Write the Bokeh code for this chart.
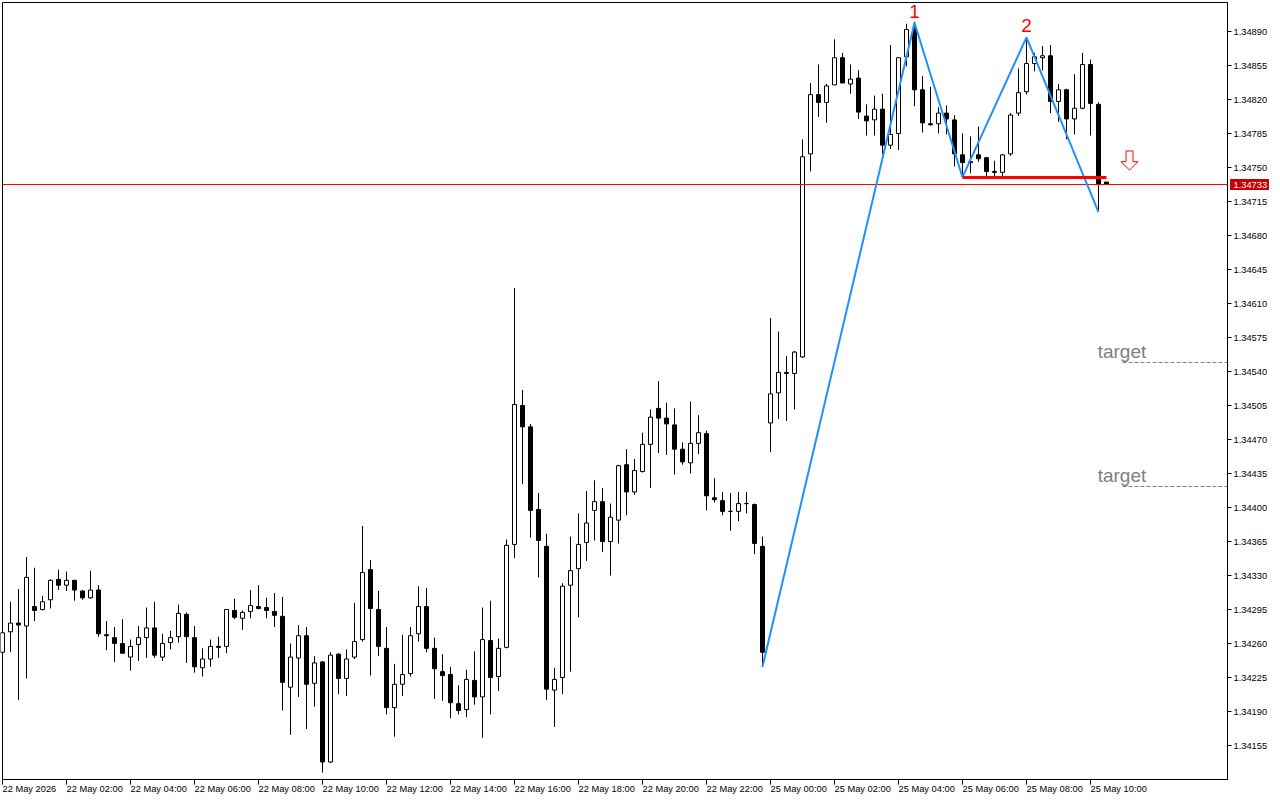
import numpy as np

from bokeh.core.properties import value
from bokeh.embed import file_html
from bokeh.models import ColumnDataSource, FixedTicker, LinearAxis, Range1d
from bokeh.plotting import figure
from bokeh.resources import INLINE

opens = [
    1.34251, 1.34272, 1.34281, 1.34278, 1.34298, 1.34295, 1.34305, 1.34326, 1.34320, 1.34325,
    1.34314, 1.34307, 1.34315, 1.34269, 1.34266, 1.34260, 1.34246, 1.34259, 1.34266, 1.34276,
    1.34246, 1.34261, 1.34267, 1.34290, 1.34266, 1.34235, 1.34244, 1.34257, 1.34257, 1.34294,
    1.34286, 1.34293, 1.34298, 1.34297, 1.34293, 1.34288, 1.34215, 1.34245, 1.34268, 1.34219,
    1.34241, 1.34138, 1.34249, 1.34224, 1.34246, 1.34264, 1.34336, 1.34295, 1.34255, 1.34194,
    1.34218, 1.34229, 1.34270, 1.34298, 1.34255, 1.34231, 1.34228, 1.34198, 1.34192, 1.34222,
    1.34205, 1.34263, 1.34226, 1.34256, 1.34362, 1.34505, 1.34483, 1.34398, 1.34360, 1.34212,
    1.34225, 1.34320, 1.34337, 1.34364, 1.34397, 1.34406, 1.34365, 1.34387, 1.34444, 1.34416,
    1.34437, 1.34465, 1.34502, 1.34492, 1.34485, 1.34460, 1.34446, 1.34466, 1.34476, 1.34410,
    1.34407, 1.34396, 1.34396, 1.34404, 1.34403, 1.34360, 1.34487, 1.34518, 1.34539, 1.34538,
    1.34555, 1.34764, 1.34825, 1.34817, 1.34835, 1.34863, 1.34836, 1.34842, 1.34803, 1.34799,
    1.34810, 1.34773, 1.34785, 1.34864, 1.34892, 1.34830, 1.34795, 1.34795, 1.34806, 1.34799,
    1.34763, 1.34756, 1.34763, 1.34760, 1.34746, 1.34745, 1.34764, 1.34806, 1.34828, 1.34857,
    1.34863, 1.34865, 1.34818, 1.34830, 1.34800, 1.34811, 1.34856, 1.34815, 1.34735,
]
highs = [
    1.34272, 1.34303, 1.34316, 1.34349, 1.34338, 1.34309, 1.34326, 1.34336, 1.34334, 1.34325,
    1.34315, 1.34335, 1.34320, 1.34283, 1.34277, 1.34285, 1.34264, 1.34278, 1.34297, 1.34303,
    1.34270, 1.34273, 1.34300, 1.34292, 1.34278, 1.34255, 1.34264, 1.34267, 1.34295, 1.34306,
    1.34294, 1.34315, 1.34320, 1.34307, 1.34312, 1.34308, 1.34260, 1.34279, 1.34277, 1.34247,
    1.34242, 1.34251, 1.34250, 1.34254, 1.34302, 1.34381, 1.34346, 1.34314, 1.34277, 1.34239,
    1.34269, 1.34277, 1.34319, 1.34317, 1.34266, 1.34249, 1.34236, 1.34217, 1.34233, 1.34252,
    1.34297, 1.34304, 1.34265, 1.34367, 1.34626, 1.34521, 1.34486, 1.34415, 1.34373, 1.34235,
    1.34322, 1.34370, 1.34394, 1.34417, 1.34428, 1.34420, 1.34404, 1.34444, 1.34460, 1.34450,
    1.34477, 1.34501, 1.34530, 1.34508, 1.34502, 1.34467, 1.34509, 1.34495, 1.34479, 1.34430,
    1.34416, 1.34415, 1.34416, 1.34416, 1.34404, 1.34370, 1.34595, 1.34581, 1.34556, 1.34561,
    1.34779, 1.34837, 1.34856, 1.34836, 1.34882, 1.34868, 1.34856, 1.34850, 1.34815, 1.34824,
    1.34826, 1.34876, 1.34863, 1.34898, 1.34900, 1.34844, 1.34833, 1.34812, 1.34814, 1.34804,
    1.34785, 1.34782, 1.34792, 1.34761, 1.34757, 1.34764, 1.34806, 1.34852, 1.34881, 1.34868,
    1.34875, 1.34876, 1.34836, 1.34831, 1.34846, 1.34868, 1.34861, 1.34817, 1.34735,
]
lows = [
    1.34250, 1.34251, 1.34202, 1.34224, 1.34283, 1.34294, 1.34296, 1.34315, 1.34314, 1.34304,
    1.34305, 1.34306, 1.34267, 1.34253, 1.34241, 1.34250, 1.34232, 1.34242, 1.34245, 1.34245,
    1.34242, 1.34254, 1.34261, 1.34240, 1.34230, 1.34226, 1.34236, 1.34245, 1.34250, 1.34285,
    1.34274, 1.34286, 1.34295, 1.34286, 1.34277, 1.34191, 1.34166, 1.34205, 1.34172, 1.34195,
    1.34127, 1.34137, 1.34208, 1.34206, 1.34244, 1.34262, 1.34227, 1.34247, 1.34187, 1.34164,
    1.34206, 1.34226, 1.34262, 1.34251, 1.34203, 1.34201, 1.34183, 1.34187, 1.34184, 1.34197,
    1.34163, 1.34187, 1.34211, 1.34255, 1.34348, 1.34424, 1.34369, 1.34328, 1.34202, 1.34174,
    1.34208, 1.34231, 1.34287, 1.34345, 1.34366, 1.34354, 1.34330, 1.34363, 1.34392, 1.34413,
    1.34436, 1.34420, 1.34456, 1.34454, 1.34434, 1.34444, 1.34435, 1.34455, 1.34397, 1.34405,
    1.34392, 1.34376, 1.34386, 1.34394, 1.34352, 1.34236, 1.34457, 1.34491, 1.34489, 1.34501,
    1.34554, 1.34746, 1.34802, 1.34796, 1.34835, 1.34837, 1.34826, 1.34800, 1.34783, 1.34783,
    1.34764, 1.34769, 1.34768, 1.34854, 1.34813, 1.34786, 1.34793, 1.34785, 1.34784, 1.34751,
    1.34740, 1.34744, 1.34756, 1.34741, 1.34741, 1.34741, 1.34762, 1.34803, 1.34825, 1.34849,
    1.34850, 1.34806, 1.34797, 1.34779, 1.34784, 1.34810, 1.34783, 1.34706, 1.34733,
]
closes = [
    1.34271, 1.34281, 1.34279, 1.34328, 1.34294, 1.34303, 1.34325, 1.34320, 1.34325, 1.34315,
    1.34307, 1.34315, 1.34270, 1.34268, 1.34260, 1.34250, 1.34257, 1.34266, 1.34276, 1.34248,
    1.34260, 1.34266, 1.34291, 1.34267, 1.34236, 1.34244, 1.34257, 1.34256, 1.34295, 1.34287,
    1.34292, 1.34299, 1.34296, 1.34294, 1.34289, 1.34220, 1.34246, 1.34268, 1.34218, 1.34240,
    1.34138, 1.34248, 1.34224, 1.34244, 1.34262, 1.34333, 1.34296, 1.34257, 1.34194, 1.34218,
    1.34228, 1.34268, 1.34298, 1.34255, 1.34234, 1.34227, 1.34199, 1.34191, 1.34223, 1.34205,
    1.34264, 1.34225, 1.34255, 1.34361, 1.34506, 1.34483, 1.34397, 1.34366, 1.34213, 1.34223,
    1.34319, 1.34335, 1.34362, 1.34384, 1.34406, 1.34365, 1.34390, 1.34443, 1.34416, 1.34438,
    1.34465, 1.34493, 1.34492, 1.34486, 1.34460, 1.34447, 1.34466, 1.34477, 1.34412, 1.34408,
    1.34396, 1.34396, 1.34404, 1.34404, 1.34363, 1.34251, 1.34517, 1.34539, 1.34538, 1.34560,
    1.34761, 1.34825, 1.34817, 1.34834, 1.34863, 1.34837, 1.34841, 1.34807, 1.34798, 1.34810,
    1.34773, 1.34784, 1.34863, 1.34892, 1.34830, 1.34796, 1.34794, 1.34806, 1.34800, 1.34764,
    1.34755, 1.34755, 1.34759, 1.34746, 1.34745, 1.34763, 1.34804, 1.34827, 1.34857, 1.34864,
    1.34865, 1.34818, 1.34830, 1.34800, 1.34811, 1.34856, 1.34816, 1.34733, 1.34733,
]

time_ticks = [0, 8, 16, 24, 32, 40, 48, 56, 64, 72, 80, 88, 96, 104, 112, 120, 128, 136]
time_labels = [
    "22 May 2026", "22 May 02:00", "22 May 04:00", "22 May 06:00", "22 May 08:00", "22 May 10:00",
    "22 May 12:00", "22 May 14:00", "22 May 16:00", "22 May 18:00", "22 May 20:00", "22 May 22:00",
    "25 May 00:00", "25 May 02:00", "25 May 04:00", "25 May 06:00", "25 May 08:00", "25 May 10:00",
]
price_ticks = [
    1.34155, 1.34190, 1.34225, 1.34260, 1.34295, 1.34330, 1.34365, 1.34400, 1.34435, 1.34470, 1.34505,
    1.34540, 1.34575, 1.34610, 1.34645, 1.34680, 1.34715, 1.34750, 1.34785, 1.34820, 1.34855, 1.34890,
]
last_price = 1.34733
last_price_line = 1.347325

# chart box, in bars and prices
box_left = 0
box_right = 153.125
box_top = 1.3491985
box_bottom = 1.34120

zigzag_x = [95, 114, 120, 128, 137]
zigzag_y = [1.34236, 1.34899, 1.34740, 1.34884, 1.34704]
neck_x = [120, 138]
neck_y = [1.347397, 1.347397]
peak_x = [114, 128]
peak_y = [1.349105, 1.34896]
peak_names = ["1", "2"]
target_x = [136.9, 136.9]
target_y = [1.34561, 1.344325]
target_line_x = [140, 140]
target_line_y = [1.345493, 1.344216]
arrow_xs = [140.44, 141.31, 141.31, 141.94, 140.875, 139.8, 140.44]
arrow_ys = [1.34767, 1.34767, 1.34756, 1.34756, 1.347474, 1.34756, 1.34756]

x = np.arange(len(opens))
o = np.array(opens)
c = np.array(closes)
up = c > o

wicks = ColumnDataSource(data=dict(x=x, high=highs, low=lows))
white = ColumnDataSource(data=dict(x=x[up], top=c[up], bottom=o[up]))
black = ColumnDataSource(data=dict(x=x[~up], top=o[~up], bottom=c[~up]))

# the plot area fills the page so that date labels and the price tag can be glyphs
p = figure(
    width=1280,
    height=800,
    output_backend="svg",
    toolbar_location=None,
    tools="",
    x_range=Range1d(-0.25, 159.75),
    y_range=Range1d(1.3409836, 1.3492191),
    x_axis_type=None,
    y_axis_type=None,
    background_fill_color="white",
    border_fill_color="white",
    min_border=0,
)
p.outline_line_color = None
p.grid.visible = False

yaxis = LinearAxis(
    fixed_location=box_right,
    bounds=(box_bottom, box_top),
    ticker=FixedTicker(ticks=price_ticks),
    major_label_overrides={t: "" for t in price_ticks},
    major_tick_in=0,
    major_tick_out=4,
    minor_tick_line_color=None,
    axis_line_color="black",
)
p.add_layout(yaxis, "right")

xaxis = LinearAxis(
    fixed_location=box_bottom,
    bounds=(box_left, box_right),
    ticker=FixedTicker(ticks=time_ticks),
    major_label_overrides={t: "" for t in time_ticks},
    major_tick_in=0,
    major_tick_out=5,
    minor_tick_line_color=None,
    axis_line_color="black",
)
p.add_layout(xaxis, "below")

p.line([box_left, box_right, box_right, box_left, box_left], [box_top, box_top, box_bottom, box_bottom, box_top],
       line_color="black", line_width=1)

p.segment("x", "high", "x", "low", source=wicks, line_color="black", line_width=1)
p.vbar("x", 0.5, "top", "bottom", source=white, fill_color="white", line_color="black", line_width=1)
p.vbar("x", 0.5, "top", "bottom", source=black, fill_color="black", line_color="black", line_width=1)

p.segment([box_left], [last_price_line], [box_right], [last_price_line], line_color="#ff0000", line_width=1)
p.segment(target_line_x, target_line_y, [box_right, box_right], target_line_y,
          line_color="#808080", line_width=1, line_dash="4 2")
p.line(zigzag_x, zigzag_y, line_color="#1e90ff", line_width=2)
p.line(neck_x, neck_y, line_color="#ff0000", line_width=3)

p.text(peak_x, peak_y, text=peak_names, text_color="#ff0000", text_align="center", text_baseline="alphabetic",
       text_font=value("Liberation Sans"), text_font_size="19px")
p.text(target_x, target_y, text=["target", "target"], text_color="#808080", text_align="left",
       text_baseline="alphabetic", text_font=value("Liberation Sans"), text_font_size="19px")
p.patch(arrow_xs, arrow_ys, fill_color="white", line_color="#ff0000", line_width=1)

# labels as glyphs: dates start at their tick, which an axis cannot do
p.text(time_ticks, [1.341102] * len(time_ticks), text=time_labels, text_color="black", text_align="left",
       text_baseline="middle", text_font=value("Liberation Sans"), text_font_size="9.3px")
p.text([153.875] * len(price_ticks), price_ticks, text=[f"{t:.5f}" for t in price_ticks], text_color="black",
       text_align="left", text_baseline="middle", y_offset=1, text_font=value("Liberation Sans"),
       text_font_size="9.3px")

p.quad(left=[153.44], right=[158.31], top=[1.347382], bottom=[1.347268], fill_color="#c80000", line_color=None)
p.text([153.875], [last_price], text=[f"{last_price:.5f}"], text_color="white", text_align="left",
       text_baseline="middle", y_offset=1, text_font=value("Liberation Sans"), text_font_size="9.3px")

open("out.html", "w").write(file_html(p, INLINE))
